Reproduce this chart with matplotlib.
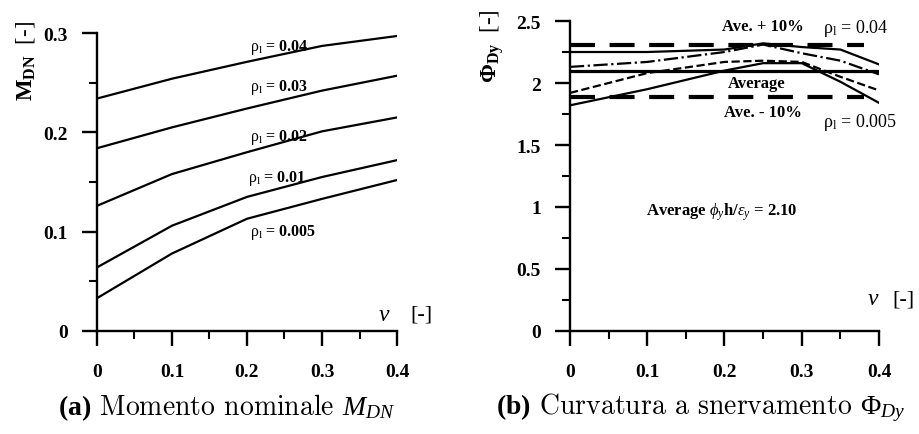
import numpy as np
from matplotlib import pyplot as plt
from matplotlib.ticker import FixedLocator, FixedFormatter

####################################
### Data
####################################

nu = [0.0, 0.1, 0.2, 0.3, 0.4]

m_rho_004 = [0.234, 0.254, 0.271, 0.287, 0.297]
m_rho_003 = [0.184, 0.205, 0.224, 0.242, 0.257]
m_rho_002 = [0.126, 0.158, 0.180, 0.201, 0.215]
m_rho_001 = [0.064, 0.106, 0.135, 0.155, 0.172]
m_rho_0005 = [0.033, 0.078, 0.113, 0.133, 0.152]

m_labels = [r"$\mathrm{\rho_l}$ = 0.04", r"$\mathrm{\rho_l}$ = 0.03",
            r"$\mathrm{\rho_l}$ = 0.02", r"$\mathrm{\rho_l}$ = 0.01",
            r"$\mathrm{\rho_l}$ = 0.005"]

nu_phi = [0.0, 0.1, 0.2, 0.25, 0.3, 0.35, 0.4]
phi_rho_004 = [2.25, 2.25, 2.27, 2.32, 2.29, 2.27, 2.15]
phi_dashdot = [2.13, 2.17, 2.25, 2.31, 2.24, 2.18, 2.07]
phi_dashed = [1.92, 2.08, 2.17, 2.18, 2.17, 2.05, 1.94]
phi_rho_0005 = [1.82, 1.95, 2.10, 2.16, 2.16, 2.01, 1.84]

phi_avg = 2.10
nu_band = [0.0, 0.38]

x_ticks = [0, 0.1, 0.2, 0.3, 0.4]
x_ticklabels = ["0", "0.1", "0.2", "0.3", "0.4"]
m_ticks = [0, 0.1, 0.2, 0.3]
m_ticklabels = ["0", "0.1", "0.2", "0.3"]
phi_ticks = [0, 0.5, 1, 1.5, 2, 2.5]
phi_ticklabels = ["0", "0.5", "1", "1.5", "2", "2.5"]

####################################
### Style
####################################

plt.rcParams["mathtext.fontset"] = "custom"
plt.rcParams["mathtext.rm"] = "Liberation Serif"
plt.rcParams["mathtext.it"] = "Liberation Serif:italic"
plt.rcParams["mathtext.bf"] = "Liberation Serif:bold"
plt.rcParams["font.family"] = "Liberation Serif"

fig = plt.figure(figsize=(9.19, 4.35), dpi=100)
ax1 = fig.add_axes([0.1055, 0.2368, 0.3265, 0.685])
ax2 = fig.add_axes([0.6202, 0.2368, 0.3363, 0.7126])


def style_axes(ax, yticks, yticklabels, yminor):
    for s in ["top", "right"]:
        ax.spines[s].set_visible(False)
    for s in ["left", "bottom"]:
        ax.spines[s].set_linewidth(1.7)
    ax.xaxis.set_major_locator(FixedLocator(x_ticks))
    ax.xaxis.set_major_formatter(FixedFormatter(x_ticklabels))
    ax.xaxis.set_minor_locator(FixedLocator(np.arange(0.05, 0.4, 0.1)))
    ax.yaxis.set_major_locator(FixedLocator(yticks))
    ax.yaxis.set_major_formatter(FixedFormatter(yticklabels))
    ax.yaxis.set_minor_locator(FixedLocator(yminor))
    ax.tick_params(which="major", direction="out", length=11, width=1.7,
                   labelsize=14, pad=10)
    ax.tick_params(which="minor", direction="out", length=6, width=1.5)
    ax.tick_params(axis="x", pad=12)
    for lab in ax.get_xticklabels() + ax.get_yticklabels():
        lab.set_fontweight("bold")
    ax.set_xlim(0, 0.4)


######################
### (a) nominal moment
#####################

for yv in [m_rho_004, m_rho_003, m_rho_002, m_rho_001, m_rho_0005]:
    ax1.plot(nu, yv, "k-", lw=1.6)

style_axes(ax1, m_ticks, m_ticklabels, [0.05, 0.15, 0.25])
ax1.set_ylim(0, 0.3)

label_pos = [(0.204, 0.286), (0.204, 0.246), (0.204, 0.196),
             (0.202, 0.155), (0.204, 0.100)]
for (lx, ly), txt in zip(label_pos, m_labels):
    ax1.text(lx, ly, txt, fontsize=11.5, fontweight="bold", va="center")

ax1.text(0.383, 0.017, r"$\nu$", fontsize=17, ha="center", va="center")
ax1.text(0.432, 0.017, "[-]", fontsize=16, ha="center", va="center",
         clip_on=False)
fig.text(0.028, 0.86, r"$\mathbf{M_{DN}}$  [-]", rotation=90, fontsize=16.5,
         ha="center", va="center")

######################
### (b) yield curvature
#####################

ax2.plot(nu_band, [phi_avg * 1.1] * 2, "k--", lw=3, dashes=(6, 3.5))
ax2.plot(nu_band, [phi_avg * 0.9] * 2, "k--", lw=3, dashes=(6, 3.5))
ax2.plot([0, 0.4], [phi_avg] * 2, "k-", lw=2.3)

ax2.plot(nu_phi, phi_rho_004, "k-", lw=1.6)
ax2.plot(nu_phi, phi_dashdot, "k-.", lw=1.6)
ax2.plot(nu_phi, phi_dashed, "k--", lw=1.6)
ax2.plot(nu_phi, phi_rho_0005, "k-", lw=1.6)

style_axes(ax2, phi_ticks, phi_ticklabels, [0.25, 0.75, 1.25, 1.75, 2.25])
ax2.set_ylim(0, 2.5)

ax2.text(0.25, 2.46, "Ave. + 10%", fontsize=12, fontweight="bold",
         ha="center", va="center")
ax2.text(0.242, 2.0, "Average", fontsize=12, fontweight="bold",
         ha="center", va="center")
ax2.text(0.25, 1.77, "Ave. - 10%", fontsize=12, fontweight="bold",
         ha="center", va="center")
ax2.text(0.328, 2.45, r"$\mathrm{\rho_l}$ = 0.04", fontsize=13, va="center")
ax2.text(0.328, 1.69, r"$\mathrm{\rho_l}$ = 0.005", fontsize=13, va="center")
ax2.text(0.196, 0.97, r"Average $\phi_y$h/$\varepsilon_y$ = 2.10", fontsize=12,
         fontweight="bold", ha="center", va="center")
ax2.text(0.393, 0.26, r"$\nu$", fontsize=17, ha="center", va="center")
ax2.text(0.431, 0.26, "[-]", fontsize=16, ha="center", va="center",
         clip_on=False)
fig.text(0.536, 0.895, r"$\mathbf{\Phi_{Dy}}$  [-]", rotation=90, fontsize=16.5,
         ha="center", va="center")

######################
### Captions
#####################

cap = {"fontsize": 20, "ha": "center", "va": "center", "family": "cmr10"}
fig.text(0.247, 0.064, r"$\mathbf{(a)}$ Momento nominale $M_{DN}$", **cap)
fig.text(0.763, 0.064, r"$\mathbf{(b)}$ Curvatura a snervamento $\Phi_{Dy}$", **cap)

plt.savefig("out.png", dpi=100)
